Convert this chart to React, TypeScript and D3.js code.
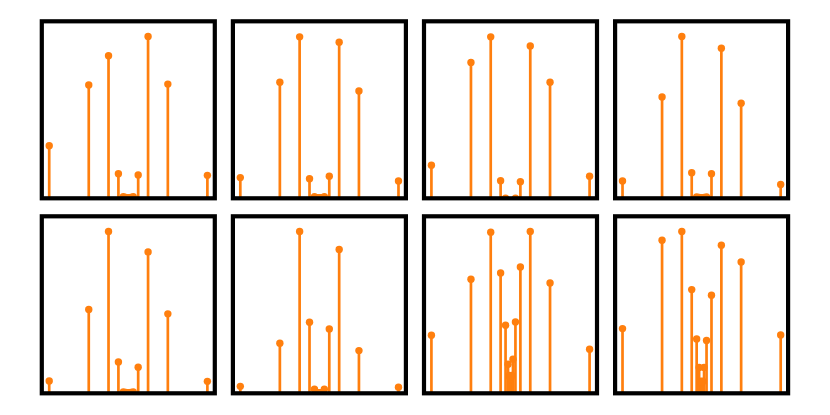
import React, { useEffect, useRef } from 'react';
import * as d3 from 'd3';

// stem positions shared by every panel
const positions = [-16, -8, -4, -2, -1, -0.5, -0.25, -0.125, 0, 0.125, 0.25, 0.5, 1, 2, 4, 8, 16];

// heights (null = nothing drawn)
const panel1 = [0.325, 0.7, 0.881, 0.152, 0.01, 0.005, 0.004, 0.004, 0.004, 0.004, 0.004, 0.005, 0.01, 0.144, 1.0, 0.706, 0.142];
const panel2 = [0.128, 0.718, 0.998, 0.121, 0.01, 0.004, 0.002, 0.002, 0.0, 0.002, 0.002, 0.004, 0.01, 0.136, 0.965, 0.663, 0.107];
const panel3 = [0.204, 0.84, 0.998, 0.109, 0.0, null, null, null, null, null, null, null, 0.0, 0.103, 0.942, 0.718, 0.136];
const panel4 = [0.107, 0.626, 1.0, 0.158, 0.008, 0.005, 0.004, 0.004, 0.004, 0.004, 0.004, 0.005, 0.008, 0.152, 0.928, 0.588, 0.086];
const panel5 = [0.076, 0.518, 1.0, 0.194, 0.008, 0.005, 0.004, 0.004, 0.004, 0.004, 0.004, 0.005, 0.008, 0.161, 0.874, 0.491, 0.074];
const panel6 = [0.043, 0.309, 1.0, 0.439, 0.025, 0.006, 0.003, 0.002, 0.002, 0.002, 0.003, 0.006, 0.025, 0.398, 0.889, 0.264, 0.037];
const panel7 = [0.359, 0.705, 0.996, 0.744, 0.421, 0.18, 0.11, 0.1, 0.09, 0.1, 0.11, 0.21, 0.441, 0.781, 1.0, 0.682, 0.272];
const panel8 = [0.4, 0.946, 1.0, 0.641, 0.336, 0.16, 0.075, 0.07, 0.07, 0.07, 0.075, 0.16, 0.326, 0.606, 0.915, 0.812, 0.361];

const panels = [panel1, panel2, panel3, panel4, panel5, panel6, panel7, panel8];

const W = 830;
const H = 415;

const App = () => {
  const ref = useRef<SVGSVGElement>(null);

  useEffect(() => {
    if (!ref.current) return;
    const svg = d3.select(ref.current);
    svg.selectAll('*').remove();

    const left = 41.8;
    const top = 21.3;
    const w = 173;
    const h = 177;
    const colStep = 191.1;
    const rowStep = 195;
    const color = '#ff7f0e';

    panels.forEach((vals, i) => {
      const col = i % 4;
      const row = Math.floor(i / 4);
      const x0 = left + col * colStep;
      const y0 = top + row * rowStep;

      const x = d3.scaleLinear().domain([-17.5, 17.5]).range([x0, x0 + w]);
      const y = d3.scaleLinear().domain([0, 1.094]).range([y0 + h, y0]);

      const pts = positions
        .map((p, k) => ({ p, v: vals[k] }))
        .filter((d) => d.v !== null) as { p: number; v: number }[];

      const clipId = `clip-${i}`;
      svg
        .append('clipPath')
        .attr('id', clipId)
        .append('rect')
        .attr('x', x0)
        .attr('y', y0)
        .attr('width', w)
        .attr('height', h);

      const g = svg.append('g').attr('clip-path', `url(#${clipId})`);

      g.selectAll('line')
        .data(pts)
        .join('line')
        .attr('x1', (d) => x(d.p))
        .attr('x2', (d) => x(d.p))
        .attr('y1', y(0))
        .attr('y2', (d) => y(d.v))
        .attr('stroke', color)
        .attr('stroke-width', 2.7);

      g.selectAll('circle')
        .data(pts)
        .join('circle')
        .attr('cx', (d) => x(d.p))
        .attr('cy', (d) => y(d.v))
        .attr('r', 3.7)
        .attr('fill', color);

      svg
        .append('rect')
        .attr('x', x0)
        .attr('y', y0)
        .attr('width', w)
        .attr('height', h)
        .attr('fill', 'none')
        .attr('stroke', '#000')
        .attr('stroke-width', 4.2);
    });
  }, []);

  return (
    <svg
      ref={ref}
      width={W}
      height={H}
      style={{ position: 'absolute', left: 0, top: 0, background: '#fff' }}
    />
  );
};

export default App;
